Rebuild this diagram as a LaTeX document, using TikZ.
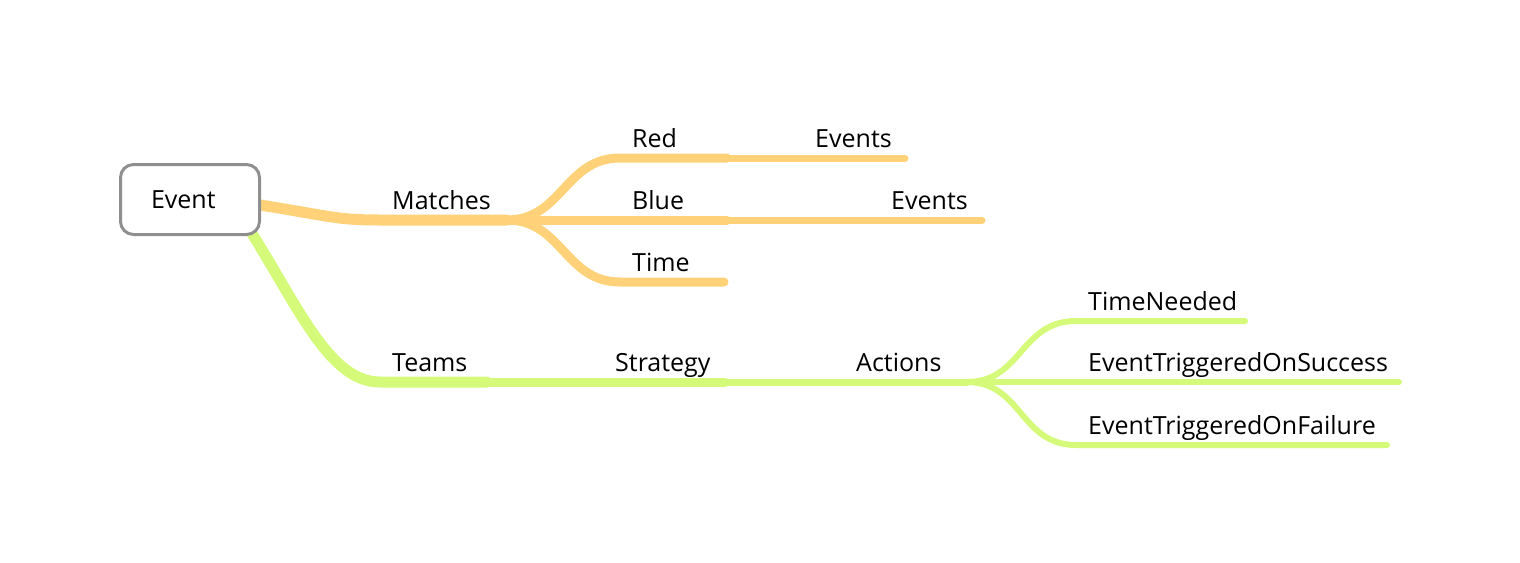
\documentclass[tikz,border=0pt]{standalone}
\usepackage{fontspec}
\setmainfont{Open Sans}
\usepackage{xcolor}
\usepackage{tikz}
\usetikzlibrary{positioning, calc, backgrounds}
\definecolor{mapgold}{RGB}{255,210,122}
\definecolor{mapgreen}{RGB}{213,250,122}
\definecolor{boxgrey}{RGB}{143,143,143}

\begin{document}
\begin{tikzpicture}[x=1pt, y=-1pt, every node/.style={font=\fontsize{25}{29}\selectfont}]
	\tikzstyle{topic}=[draw=boxgrey, line width=3pt, rounded corners=13pt, fill=white, minimum width=139pt, minimum height=70pt, inner xsep=30.5pt, text width=78pt, align=left, text=black]
	
	\tikzstyle{lbl}=[inner sep=0pt, text height=18pt, text depth=6pt, text=black]
	
	\tikzstyle{gold}=[draw=mapgold, line cap=round]
	\tikzstyle{lime}=[draw=mapgreen, line cap=round]
	
	\useasboundingbox (0,0) rectangle (1520,562);
	
	\node [topic] (Ev) at (190,199.5) {Event};
	
	%% matches side
	\coordinate (Ma1) at (380,220);
	\coordinate (Ma2) at (507,220);
	\coordinate (Rd1) at (620,158);
	\coordinate (Rd2) at (727,158);
	\coordinate (Rv1) at (803,158);
	\coordinate (Rv2) at (905,158);
	\coordinate (Bl1) at (620,220);
	\coordinate (Bl2) at (727,220);
	\coordinate (Bv1) at (879,220);
	\coordinate (Bv2) at (982,220);
	\coordinate (Ti1) at (620,282);
	\coordinate (Ti2) at (724,282);
	
	\node [lbl, above right=4pt and 12pt of Ma1] (Ma) {Matches};
	\node [lbl, above right=4pt and 12pt of Rd1] (Rd) {Red};
	\node [lbl, above right=4pt and 12pt of Rv1] (Rv) {Events};
	\node [lbl, above right=4pt and 12pt of Bl1] (Bl) {Blue};
	\node [lbl, above right=4pt and 12pt of Bv1] (Bv) {Events};
	\node [lbl, above right=4pt and 12pt of Ti1] (Ti) {Time};
	
	%% teams side
	\coordinate (Te1) at (380,382);
	\coordinate (Te2) at (487,382);
	\coordinate (St1) at (603,382);
	\coordinate (St2) at (725,382);
	\coordinate (Ac1) at (844,382);
	\coordinate (Ac2) at (967,382);
	\coordinate (Tn1) at (1076,321);
	\coordinate (Tn2) at (1245,321);
	\coordinate (Su1) at (1076,382);
	\coordinate (Su2) at (1399,382);
	\coordinate (Fa1) at (1076,445);
	\coordinate (Fa2) at (1387,445);
	
	\node [lbl, above right=4pt and 12pt of Te1] (Te) {Teams};
	\node [lbl, above right=4pt and 12pt of St1] (St) {Strategy};
	\node [lbl, above right=4pt and 12pt of Ac1] (Ac) {Actions};
	\node [lbl, above right=4pt and 12pt of Tn1] (Tn) {TimeNeeded};
	\node [lbl, above right=4pt and 12pt of Su1] (Su) {EventTriggeredOnSuccess};
	\node [lbl, above right=4pt and 12pt of Fa1] (Fa) {EventTriggeredOnFailure};
	
	\begin{scope}[on background layer]
	\draw [gold, line width=11pt] ($(Ev.east)+(-4,5)$) .. controls (330,216) and (335,220) .. (Ma1) -- (Ma2);
	\draw [gold, line width=9pt] (Ma2) .. controls (562,220) and (565,158) .. (Rd1) -- (Rd2);
	\draw [gold, line width=7pt] (Rd2) -- (Rv1) -- (Rv2);
	\draw [gold, line width=9pt] (Ma2) -- (Bl1) -- (Bl2);
	\draw [gold, line width=7pt] (Bl2) -- (Bv1) -- (Bv2);
	\draw [gold, line width=9pt] (Ma2) .. controls (562,220) and (565,282) .. (Ti1) -- (Ti2);
	
	\draw [lime, line width=11pt] ($(Ev.south east)+(-10,-4)$) .. controls (300,310) and (330,382) .. (Te1) -- (Te2);
	\draw [lime, line width=9pt] (Te2) -- (St1) -- (St2);
	\draw [lime, line width=7pt] (St2) -- (Ac1) -- (Ac2);
	\draw [lime, line width=6pt] (Ac2) .. controls (1022,382) and (1020,321) .. (Tn1) -- (Tn2);
	\draw [lime, line width=6pt] (Ac2) -- (Su1) -- (Su2);
	\draw [lime, line width=6pt] (Ac2) .. controls (1022,382) and (1020,445) .. (Fa1) -- (Fa2);
	\end{scope}
\end{tikzpicture}
\end{document}
